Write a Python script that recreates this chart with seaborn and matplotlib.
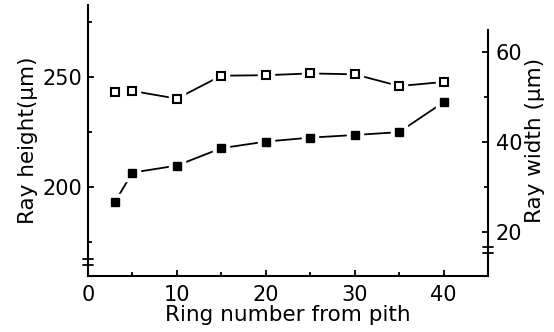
import numpy as np
import matplotlib
matplotlib.use('Agg')
import matplotlib.pyplot as plt
import seaborn as sns

ring = [3, 5, 10, 15, 20, 25, 30, 35, 40]
ray_height = [193, 206.5, 209.7, 217.6, 220.6, 222.4, 223.6, 224.9, 238.5]
ray_width = [51.1, 51.3, 49.6, 54.7, 54.8, 55.2, 55.0, 52.4, 53.3]

sns.set_style('ticks')
plt.rcParams['font.family'] = ['DejaVu Sans']
plt.rcParams['axes.labelcolor'] = 'black'
plt.rcParams['text.color'] = 'black'

fig = plt.figure(figsize=(5.54, 3.32), dpi=100)
ax = fig.add_axes([88 / 554, 1 - 276 / 332, 400 / 554, 271 / 332])
ax2 = ax.twinx()

# filled squares -> ray height (left axis)
sns.lineplot(x=ring, y=ray_height, ax=ax, color='black', lw=1.3, zorder=2)
ax.plot(ring, ray_height, ls='none', marker='s', ms=12, mfc='white', mec='white', zorder=5)
ax.plot(ring, ray_height, ls='none', marker='s', ms=6, mfc='black', mec='black', zorder=6)

# open squares -> ray width (right axis)
sns.lineplot(x=ring, y=ray_width, ax=ax2, color='black', lw=1.3, zorder=2)
ax2.plot(ring, ray_width, ls='none', marker='s', ms=11, mfc='white', mec='white', zorder=5)
ax2.plot(ring, ray_width, ls='none', marker='s', ms=5.5, mfc='white', mec='black', mew=1.5, zorder=6)

ax.set_xlim(0, 45)
ax.set_ylim(159.5, 282.7)
ax2.set_ylim(10.2, 70.4)

ax.set_xticks([0, 10, 20, 30, 40])
ax.set_xticks([5, 15, 25, 35], minor=True)
ax.set_yticks([200, 250])
ax.set_yticks([175, 225, 275], minor=True)
ax2.set_yticks([20, 40, 60])
ax2.set_yticks([30, 50], minor=True)

for a in (ax, ax2):
    a.tick_params(which='both', direction='in', width=1.3, colors='black', labelsize=15)
    a.tick_params(which='major', length=4)
    a.tick_params(which='minor', length=3)
    for s in a.spines.values():
        s.set_linewidth(1.5)
        s.set_color('black')
    a.spines['top'].set_visible(False)

ax.tick_params(axis='x', pad=6.5)
ax.tick_params(axis='y', pad=4.5)
ax2.tick_params(axis='y', pad=5.5)

ax.spines['right'].set_visible(False)
ax2.spines['left'].set_visible(False)
ax2.spines['bottom'].set_visible(False)
ax2.spines['right'].set_bounds(10.2, 64.9)

ax.set_xlabel('Ring number from pith', fontsize=15.5, labelpad=0, color='black')
ax.set_ylabel('Ray height(μm)', fontsize=15.5, labelpad=3, color='black')
ax2.set_ylabel('Ray width (μm)', fontsize=15.5, labelpad=2, color='black')

# axis break marks
for a, yb, xb in ((ax, 0.052, 0.0), (ax2, 0.095, 1.0)):
    for dy in (-0.011, 0.011):
        a.plot([xb - 0.013, xb + 0.013], [yb + dy, yb + dy], transform=a.transAxes,
               color='black', lw=1.3, clip_on=False, zorder=7)

fig.savefig('out.png', dpi=100)
